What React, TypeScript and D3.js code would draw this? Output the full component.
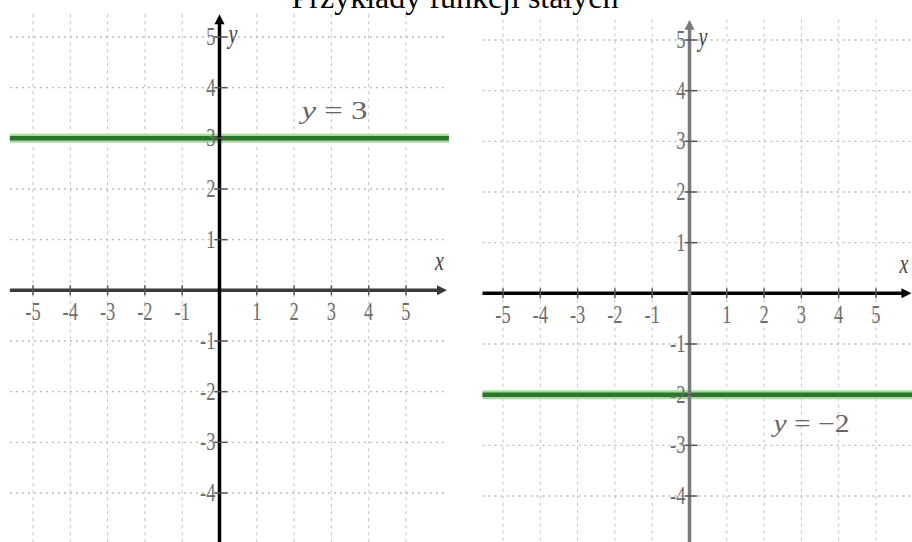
import React from "react";
import * as d3 from "d3";

const W = 912;
const H = 542;

const title = "Przykłady funkcji stałych";
const xTicks = [-5, -4, -3, -2, -1, 1, 2, 3, 4, 5];
const yTicks = [-4, -3, -2, -1, 1, 2, 3, 4, 5];
const constants = [3, -2];
const lineLabels = ["3", "−2"];

// Layout of each coordinate panel (pixel anchors for the scales, extents in data units)
const panels = [
  { xPx: [33, 406], yPx: [493, 37], xExt: [-5.62, 6.1], yExt: [-5.05, 5.45], label: [2.2, 3.55], labelW: 66, axisX: "#3a3a3a", axisY: "#000" },
  { xPx: [503, 876], yPx: [496, 40], xExt: [-5.55, 5.95], yExt: [-5.05, 5.4], label: [2.25, -2.55], labelW: 76, axisX: "#000", axisY: "#7a7a7a" },
];

const serif = "'Liberation Serif', 'DejaVu Serif', serif";
const SQX = 0.74; // horizontal condensing of the glyphs

function Txt(props: { x: number; y: number; size: number; anchor?: string; fill?: string; italic?: boolean; children: React.ReactNode }) {
  return (
    <text
      transform={`translate(${props.x},${props.y}) scale(${SQX},1)`}
      textAnchor={props.anchor || "start"}
      fontFamily={serif}
      fontSize={props.size}
      fontStyle={props.italic ? "italic" : "normal"}
      fill={props.fill || "#6e6e6e"}
    >
      {props.children}
    </text>
  );
}

function Panel({ idx }: { idx: number }) {
  const p = panels[idx];
  const x = d3.scaleLinear().domain([-5, 5]).range(p.xPx);
  const y = d3.scaleLinear().domain([-4, 5]).range(p.yPx);
  const x0 = x(p.xExt[0]);
  const x1 = x(p.xExt[1]);
  const yTop = y(p.yExt[1]);
  const yBot = y(p.yExt[0]);
  const c = constants[idx];
  const line = d3.line<[number, number]>().x((d) => x(d[0])).y((d) => y(d[1]));
  const fn: [number, number][] = [[p.xExt[0], c], [p.xExt[1] + 0.05, c]];
  const fmt = (t: number) => (t < 0 ? "-" + Math.abs(t) : String(t));
  return (
    <g>
      {/* grid */}
      {xTicks.map((t) => (
        <line key={"gv" + t} x1={x(t)} x2={x(t)} y1={yTop} y2={yBot} stroke="#c2c2c2" strokeWidth={1} strokeDasharray="3,4" />
      ))}
      {yTicks.map((t) => (
        <line key={"gh" + t} x1={x0} x2={x1} y1={y(t)} y2={y(t)} stroke="#b8b8b8" strokeWidth={1.3} strokeDasharray="2,4" />
      ))}
      {/* constant function */}
      <path d={line(fn) || ""} stroke="#a9dba0" strokeWidth={9} fill="none" />
      <path d={line(fn) || ""} stroke="#2c762c" strokeWidth={4.5} fill="none" />
      {/* axes */}
      <line x1={x0} x2={x1 - 6} y1={y(0)} y2={y(0)} stroke={p.axisX} strokeWidth={3.5} />
      <path d={`M${x1},${y(0)} L${x1 - 10},${y(0) - 5} L${x1 - 10},${y(0) + 5} Z`} fill={p.axisX} />
      <line x1={x(0)} x2={x(0)} y1={yTop + 6} y2={yBot} stroke={p.axisY} strokeWidth={3.5} />
      <path d={`M${x(0)},${yTop} L${x(0) - 5},${yTop + 10} L${x(0) + 5},${yTop + 10} Z`} fill={p.axisY} />
      {/* ticks */}
      {xTicks.map((t) => (
        <g key={"xt" + t}>
          <line x1={x(t)} x2={x(t)} y1={y(0) - 5} y2={y(0) + 5} stroke="#555" strokeWidth={1.5} />
          <Txt x={x(t)} y={y(0) + 30} size={25} anchor="middle">{fmt(t)}</Txt>
        </g>
      ))}
      {yTicks.map((t) => (
        <g key={"yt" + t}>
          <line x1={x(0) - 5} x2={x(0) + 8} y1={y(t)} y2={y(t)} stroke="#555" strokeWidth={1.5} />
          <Txt x={x(0) - 4} y={y(t) + 8} size={25} anchor="end">{fmt(t)}</Txt>
        </g>
      ))}
      {/* axis names */}
      <Txt x={x1 - 12} y={y(0) - 20} size={27} italic fill="#444">x</Txt>
      <Txt x={x(0) + 9} y={y(5) + 6} size={27} italic fill="#444">y</Txt>
      {/* function label */}
      <text
        x={x(p.label[0])}
        y={y(p.label[1]) + 9}
        fontFamily={serif}
        fontSize={25}
        fill="#666"
        textLength={p.labelW}
        lengthAdjust="spacingAndGlyphs"
      >
        <tspan fontStyle="italic">y</tspan>
        <tspan>{"  =  "}{lineLabels[idx]}</tspan>
      </text>
    </g>
  );
}

export default function App() {
  return (
    <svg width={W} height={H} style={{ position: "absolute", left: 0, top: 0, background: "#fff" }}>
      <rect width={W} height={H} fill="#fff" />
      <Panel idx={0} />
      <Panel idx={1} />
      <rect x={0} y={0} width={W} height={13} fill="#fff" />
      <text x={455} y={8} textAnchor="middle" fontFamily={serif} fontSize={32} fill="#000">{title}</text>
    </svg>
  );
}
